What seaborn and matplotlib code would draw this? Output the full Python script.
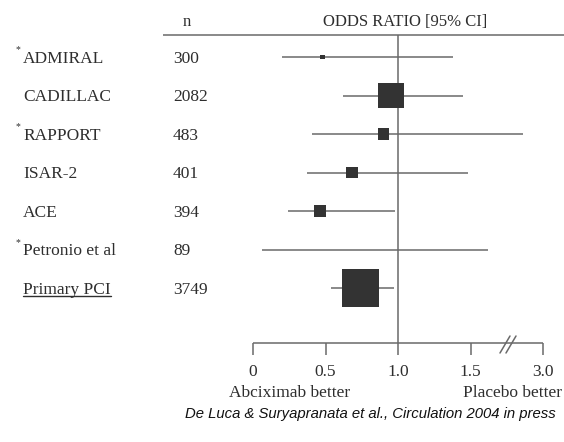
import numpy as np
import pandas as pd
import matplotlib
matplotlib.use("Agg")
from matplotlib import pyplot as plt
import seaborn as sns

# ---- data ----
studies = ["ADMIRAL", "CADILLAC", "RAPPORT", "ISAR-2", "ACE", "Petronio et al", "Primary PCI"]
starred = [True, False, True, False, False, True, False]
n_pts = [300, 2082, 483, 401, 394, 89, 3749]
odds = [0.48, 0.95, 0.90, 0.68, 0.46, np.nan, 0.74]
ci_lo = [0.20, 0.62, 0.41, 0.37, 0.24, 0.06, 0.54]
ci_hi = [1.38, 1.45, 2.58, 1.48, 0.98, 1.86, 0.97]
weight = [0.7, 25.6, 5.6, 5.6, 5.6, 0.0, 55.2]
ticks = [0, 0.5, 1.0, 1.5, 3.0]
tick_labels = ["0", "0.5", "1.0", "1.5", "3.0"]
citation = "De Luca & Suryapranata et al., Circulation 2004 in press"


def brk(v):
    # axis is broken after 1.5: 3.0 is drawn where 2.0 would be
    v = np.asarray(v, dtype=float)
    return np.where(v <= 1.5, v, 1.5 + (v - 1.5) / 3)


# pixel helpers for the page layout (figure is 564 x 442 px)
def px(x):
    return (x - 253) / 145


def py(y):
    return (y - 57) / 38.5


sns.set_theme(style="white")
plt.rcParams['font.family'] = ['Liberation Serif', 'DejaVu Serif']
txt = '#2e2e2e'
line_c = '#6a6a6a'

fig = plt.figure(figsize=(5.64, 4.42), dpi=100)
ax = fig.add_axes([0, 0, 1, 1])
ax.set_xlim(px(0), px(564))
ax.set_ylim(py(442), py(0))
ax.axis('off')

rows = np.arange(len(studies))
df = pd.DataFrame({'row': rows, 'odds': brk(odds), 'weight': weight})

# header
ax.hlines(py(35), px(163), px(564), color=line_c, lw=1.1)
ax.text(px(187), py(22), "n", ha='center', va='center', fontsize=12, color=txt)
ax.text(px(405), py(22), "ODDS RATIO [95% CI]", ha='center', va='center', fontsize=12, color=txt)

# line of no effect
ax.vlines(1.0, py(35), py(343), color=line_c, lw=1.1)

# confidence intervals and study squares
ax.hlines(rows, brk(ci_lo), brk(ci_hi), color=line_c, lw=1.1)
sns.scatterplot(data=df, x='odds', y='row', size='weight', sizes=(0, 730),
                size_norm=(0, 55.2), marker='s', color='#333333', linewidth=0,
                legend=False, ax=ax, zorder=3)

# study names and n
for r, name, star, n in zip(rows, studies, starred, n_pts):
    t = ax.text(px(23), r + 0.15, name, ha='left', va='baseline', fontsize=12.5, color=txt)
    if star:
        ax.text(px(16), r - 0.12, "*", ha='left', va='baseline', fontsize=7, color=txt)
    ax.text(px(173), r + 0.15, str(n), ha='left', va='baseline', fontsize=12.5, color=txt)
    if name == "Primary PCI":
        fig.canvas.draw()
        bb = t.get_window_extent().transformed(ax.transData.inverted())
        ax.plot([bb.x0, bb.x1], [r + 0.22, r + 0.22], color=txt, lw=1.0)

# x axis with break
ax.hlines(py(343), brk(ticks[0]), brk(ticks[-1]), color=line_c, lw=1.1)
ax.vlines(brk(ticks), py(343), py(355), color=line_c, lw=1.1)
for tk, lab in zip(brk(ticks), tick_labels):
    ax.text(tk, py(372), lab, ha='center', va='center', fontsize=12.5, color=txt)
for off in (0, 6):
    ax.plot([px(500 + off), px(510 + off)], [py(353), py(336)], color=line_c, lw=1.1)

ax.text(px(290), py(393), "Abciximab better", ha='center', va='center', fontsize=12.5, color=txt)
ax.text(px(562), py(393), "Placebo better", ha='right', va='center', fontsize=12.5, color=txt)

ax.text(px(556), py(414), citation, ha='right', va='center', fontsize=10.7,
        style='italic', family=['Liberation Sans', 'DejaVu Sans'], color='#111111')

fig.savefig('out.png', dpi=100)
